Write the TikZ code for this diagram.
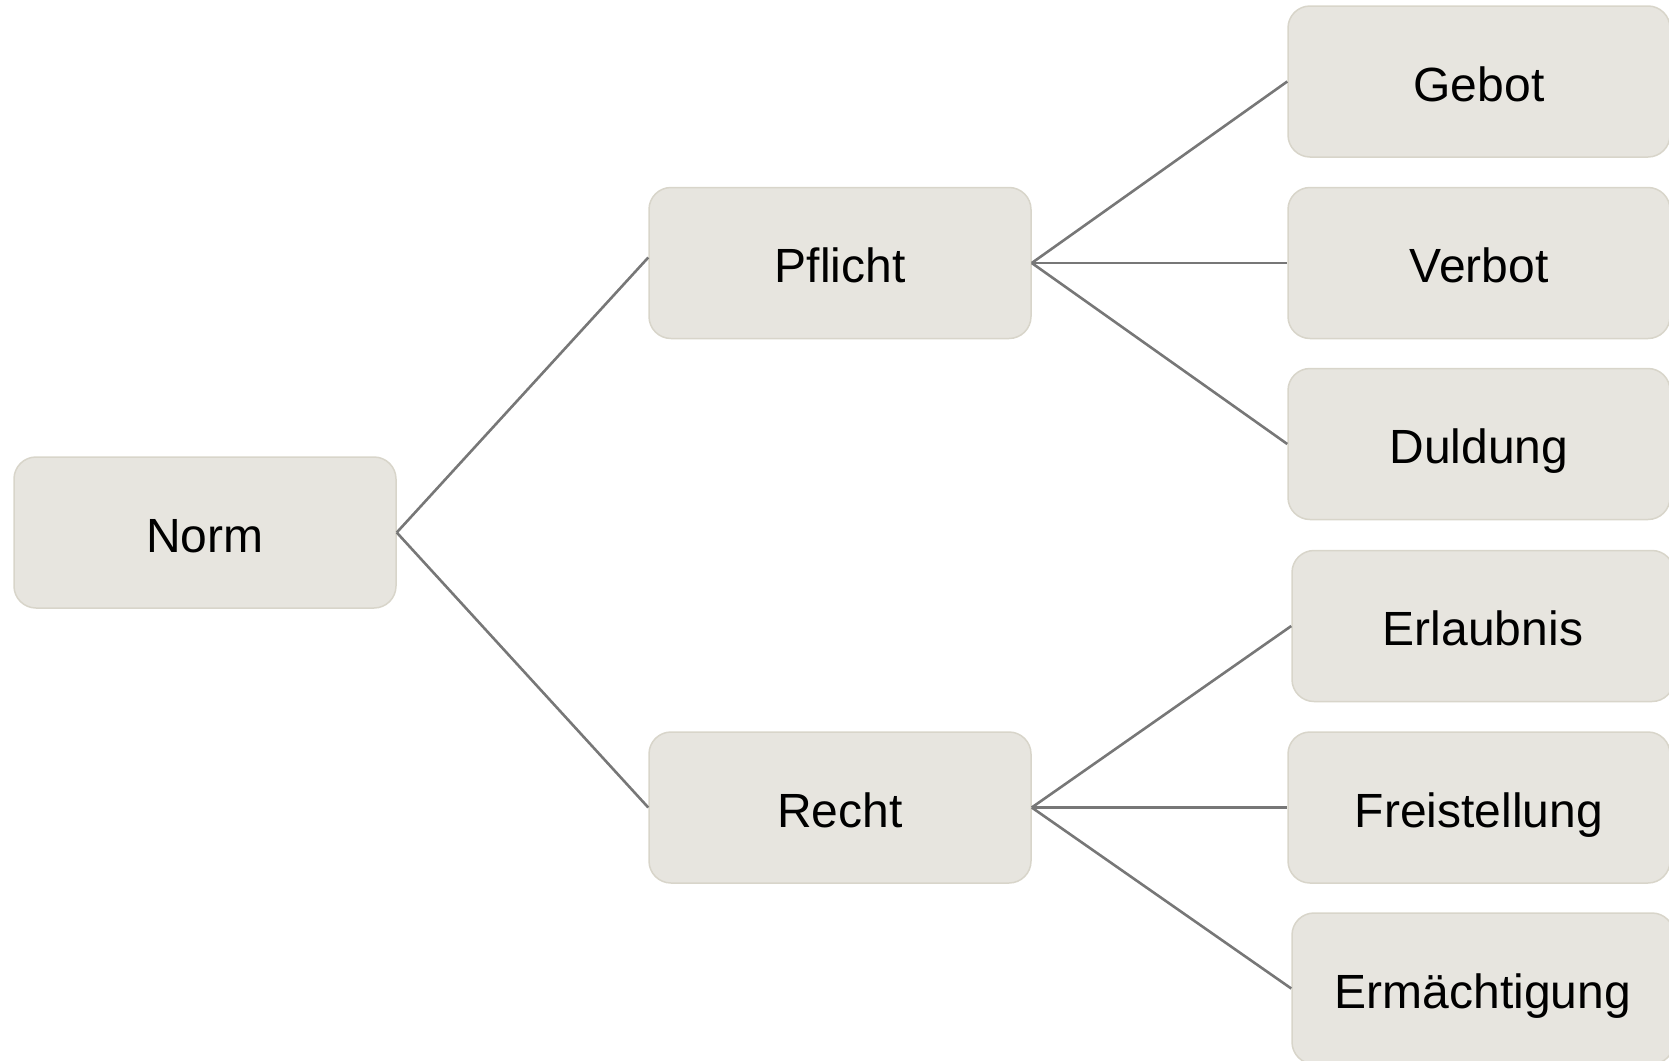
\documentclass[tikz,border=0pt]{standalone}
\usepackage{fontspec}
\setmainfont{Liberation Sans}
\usetikzlibrary{calc}
\definecolor{boxfill}{HTML}{E7E5DF}
\definecolor{boxdraw}{HTML}{D8D5CA}
\definecolor{linkcol}{HTML}{777777}
\tikzset{
  box/.style={draw=boxdraw, line width=1.5pt, fill=boxfill, rounded corners=22pt,
    minimum width=382pt, minimum height=151pt, inner sep=0pt,
    text height=39pt, text depth=0pt,
    font=\fontsize{48}{57}\selectfont},
  link/.style={draw=linkcol, line width=2.6pt}
}
\begin{document}
\begin{tikzpicture}[x=1pt,y=-1pt]
\useasboundingbox (0,0) rectangle (1669,1060);
\node[box] (norm) at (205,532.5) {Norm};
\node[box] (pflicht) at (840,263) {Pflicht};
\node[box] (recht) at (840,807.5) {Recht};
\node[box] (gebot) at (1479,81.5) {Gebot};
\node[box] (verbot) at (1479,263) {Verbot};
\node[box] (duldung) at (1479,444) {Duldung};
\node[box] (erlaubnis) at (1483,626) {Erlaubnis};
\node[box] (freistellung) at (1479,807.5) {Freistellung};
\node[box] (ermaechtigung) at (1483,988.5) {Ermächtigung};
\draw[link] (norm.east) -- ($(pflicht.west)+(0,-5.5)$);
\draw[link] (norm.east) -- (recht.west);
\draw[link] (pflicht.east) -- (gebot.west);
\draw[link] (pflicht.east) -- (verbot.west);
\draw[link] (pflicht.east) -- (duldung.west);
\draw[link] (recht.east) -- (erlaubnis.west);
\draw[link] (recht.east) -- (freistellung.west);
\draw[link] (recht.east) -- (ermaechtigung.west);
\end{tikzpicture}
\end{document}
